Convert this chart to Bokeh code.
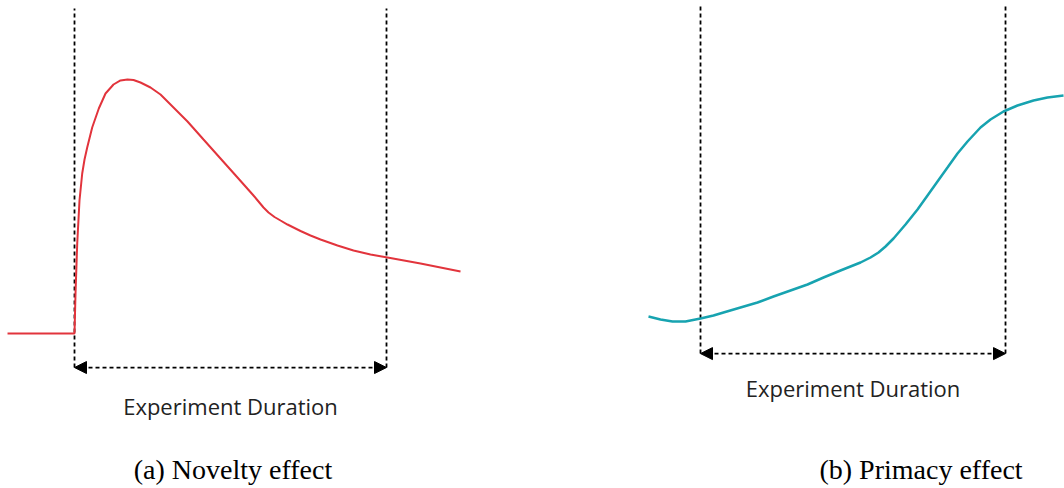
from bokeh.plotting import figure
from bokeh.models import Range1d, Arrow, NormalHead, Label
from bokeh.embed import file_html
from bokeh.resources import INLINE

# ---------------- data ----------------
# (a) Novelty effect: metric vs. time (experiment runs from 0 to 100)
novelty_t = [-21.47, 0.0, 0.32, 0.87, 1.60, 2.47, 3.21, 4.07, 5.67, 7.79, 9.94, 12.50,
             14.74, 16.99, 18.91, 21.15, 24.36, 27.56, 30.77, 33.97, 36.22, 41.35,
             46.79, 52.24, 57.37, 60.58, 62.18, 64.10, 66.03, 68.27, 70.19, 72.44,
             75.64, 78.85, 84.29, 89.42, 94.87, 100.32, 110.90, 123.72]
novelty_v = [0.0, 0.0, 15.75, 35.43, 52.36, 62.99, 68.50, 73.23, 81.10, 88.58, 94.49,
             98.03, 99.61, 100.0, 99.80, 98.82, 96.85, 94.09, 90.16, 86.22, 83.46,
             76.38, 68.90, 61.42, 54.33, 49.61, 47.64, 45.87, 44.49, 42.91, 41.73,
             40.35, 38.58, 37.01, 34.65, 32.68, 31.10, 29.92, 27.56, 24.41]

# (b) Primacy effect
primacy_t = [-17.05, -13.11, -9.18, -4.92, 0.0, 4.26, 7.54, 13.11, 18.69, 23.93, 29.51,
             35.08, 40.33, 45.90, 49.18, 52.46, 55.74, 58.36, 60.66, 63.28, 67.21,
             71.15, 74.43, 77.70, 80.98, 84.26, 87.54, 91.80, 95.08, 99.34, 103.93,
             109.18, 113.77, 119.02]
primacy_v = [2.21, 0.88, 0.0, 0.0, 1.33, 2.65, 3.98, 6.19, 8.41, 11.06, 13.72,
             16.37, 19.47, 22.57, 24.34, 26.11, 28.32, 30.53, 33.19, 36.73, 42.92,
             49.56, 55.75, 61.95, 68.14, 74.34, 79.65, 85.84, 89.38, 92.92, 95.58,
             97.79, 99.12, 100.0]

exp_start = 0
exp_end = 100
duration_label = "Experiment Duration"
captions = ["(a) Novelty effect", "(b) Primacy effect"]

# ---------------- styling / layout ----------------
RED = "#e2343c"
TEAL = "#17a3b0"
DASH = "4 3"
W, H = 1064, 488

p = figure(width=W, height=H, output_backend="svg", toolbar_location=None,
           x_range=Range1d(-23.72, 317.31), y_range=Range1d(-61.02, 131.10),
           x_axis_location=None, y_axis_location=None, min_border=0,
           outline_line_color=None, background_fill_color="white")
p.grid.visible = False
p.extra_x_ranges = {"b": Range1d(-229.51, 119.34)}
p.extra_y_ranges = {"b": Range1d(-73.89, 142.04)}

arrow_a = -13.4
arrow_b = -14.2
head = dict(size=12, fill_color="black", line_color="black")

# panel (a)
p.segment(x0=[exp_start, exp_end], y0=[arrow_a, arrow_a], x1=[exp_start, exp_end],
          y1=[127.95, 127.95], line_color="black", line_width=1.8, line_dash=DASH)
p.line(novelty_t, novelty_v, line_color=RED, line_width=2)
p.add_layout(Arrow(start=NormalHead(**head), end=NormalHead(**head),
                   x_start=exp_start, y_start=arrow_a, x_end=exp_end, y_end=arrow_a,
                   line_color="black", line_width=1.8, line_dash=DASH))
p.add_layout(Label(x=(exp_start + exp_end) / 2, y=-28.7, text=duration_label,
                   text_align="center", text_baseline="alphabetic",
                   text_font="Open Sans", text_font_size="22px", text_color="#222222"))
p.add_layout(Label(x=50.8, y=-53.5, text=captions[0], text_align="center",
                   text_baseline="alphabetic", text_font="Liberation Serif",
                   text_font_size="28px", text_color="black"))

# panel (b)
p.segment(x0=[exp_start, exp_end], y0=[arrow_b, arrow_b], x1=[exp_start, exp_end],
          y1=[140.7, 140.7], line_color="black", line_width=1.8, line_dash=DASH,
          x_range_name="b", y_range_name="b")
p.line(primacy_t, primacy_v, line_color=TEAL, line_width=2.5,
       x_range_name="b", y_range_name="b")
p.add_layout(Arrow(start=NormalHead(**head), end=NormalHead(**head),
                   x_start=exp_start, y_start=arrow_b, x_end=exp_end, y_end=arrow_b,
                   line_color="black", line_width=1.8, line_dash=DASH,
                   x_range_name="b", y_range_name="b"))
p.add_layout(Label(x=(exp_start + exp_end) / 2, y=-29.6, text=duration_label,
                   text_align="center", text_baseline="alphabetic",
                   text_font="Open Sans", text_font_size="22px", text_color="#222222",
                   x_range_name="b", y_range_name="b"))
p.add_layout(Label(x=72.3, y=-65.5, text=captions[1], text_align="center",
                   text_baseline="alphabetic", text_font="Liberation Serif",
                   text_font_size="28px", text_color="black",
                   x_range_name="b", y_range_name="b"))

open("out.html", "w").write(file_html(p, INLINE))
